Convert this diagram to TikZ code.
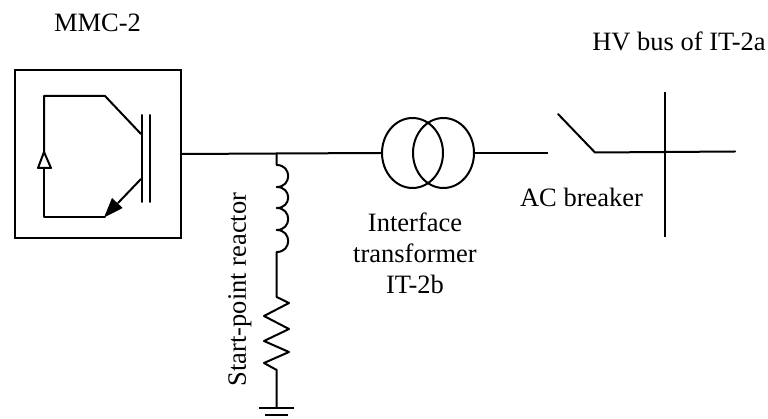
\documentclass[tikz,border=0pt]{standalone}
\usepackage{fontspec}
\setmainfont{Liberation Serif}
\usetikzlibrary{arrows.meta,shapes.geometric}
\tikzset{
  wire/.style={line width=2pt,line join=round,line cap=round},
  coil/.style={draw,ellipse,line width=2pt,minimum width=61pt,minimum height=70pt,inner sep=0pt},
  lbl/.style={inner sep=0pt,font=\fontsize{26.5}{31}\selectfont,align=center}
}
\begin{document}
\begin{tikzpicture}[x=1pt,y=-1pt]
\useasboundingbox (0,0) rectangle (768,419);
% converter box
\node[draw,line width=2pt,minimum width=166pt,minimum height=168pt,inner sep=0pt] (box) at (97.7,154) {};
\coordinate (tl) at (44,96);
\coordinate (tk) at (105,96);
\coordinate (bl) at (44,217);
\coordinate (bk) at (105,217);
\coordinate (ce) at (141,134);
\coordinate (em) at (141,179);
\draw[wire] (ce) -- (tk) -- (tl) -- (44,168);
\draw[wire] (44,168) -- (bl) -- (bk);
\draw[wire,fill=white] (44,152) -- (51,168) -- (38,168) -- cycle;
\draw[wire] (141.5,115) -- (141.5,202);
\draw[wire] (149.5,115) -- (149.5,202);
\draw[wire] (em) -- (118,203);
\fill (104,217.5) -- (112,198) -- (122.7,208) -- cycle;
% main line and junction
\coordinate (j) at (276.7,153.5);
\node[coil] (t1) at (412.5,153) {};
\node[coil] (t2) at (443.5,153) {};
\coordinate (brk) at (548,153);
\draw[wire,line cap=butt] (box.east |- 0,154) -- (j) -- (t1.west);
\draw[wire,line cap=butt] (t2.east) -- (brk);
% breaker and bus
\coordinate (sw) at (558,114);
\coordinate (hinge) at (595,152.5);
\coordinate (busr) at (735,151.5);
\draw[wire] (sw) -- (hinge) -- (busr);
\coordinate (bust) at (664.5,92);
\coordinate (busb) at (664.5,237);
\draw[wire,line cap=butt] (bust) -- (busb);
% reactor
\draw[wire] (j) -- (276.7,165)
  .. controls (292,165) and (292,187) .. (276.7,187)
  .. controls (292,187) and (292,208) .. (276.7,208)
  .. controls (292,208) and (292,230) .. (276.7,230)
  .. controls (292,230) and (292,252) .. (276.7,252)
  -- (276.7,297) -- (289,303) -- (264,316) -- (289,329) -- (264,341) -- (289,352) -- (264,363) -- (276.7,370) -- (276.7,407);
\coordinate (g1) at (259,408);
\coordinate (g2) at (294,408);
\coordinate (g3) at (265,415);
\coordinate (g4) at (288,415);
\draw[wire,line cap=butt] (g1) -- (g2);
\draw[wire,line cap=butt] (g3) -- (g4);
% labels
\node[lbl] (mmc) at (97.5,23) {MMC-2};
\node[lbl] (hv) at (679,41) {HV bus of IT-2a};
\node[lbl] (ac) at (581.5,197) {AC breaker};
\node[lbl] (it) at (415,253) {Interface\\transformer\\IT-2b};
\node[lbl,rotate=90] (sr) at (240,289.5) {Start-point reactor};
\end{tikzpicture}
\end{document}
